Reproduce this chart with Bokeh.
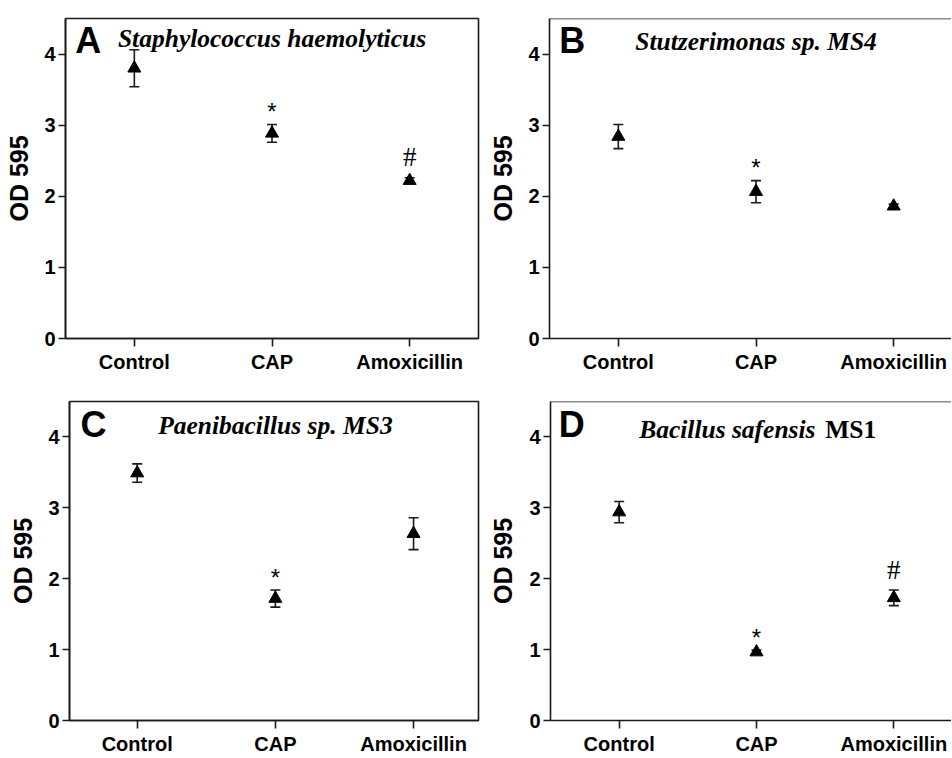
from bokeh.plotting import figure
from bokeh.models import Range1d, FixedTicker, Whisker, TeeHead, ColumnDataSource, Label, Span
from bokeh.layouts import row, column
from bokeh.core.properties import value
from bokeh.embed import file_html
from bokeh.resources import INLINE

# ---------------- data ----------------
groups = ["Control", "CAP", "Amoxicillin"]
y_ticks = [0, 1, 2, 3, 4]
y_label = "OD 595"

letters = ["A", "B", "C", "D"]
species = ["Staphylococcus haemolyticus", "Stutzerimonas sp. MS4",
           "Paenibacillus sp. MS3", "Bacillus safensis"]
strain = ["", "", "", "MS1"]

mean_A = [3.80, 2.885, 2.22]
sem_A = [0.26, 0.125, 0.04]
sig_A = ["", "*", "#"]

mean_B = [2.84, 2.065, 1.86]
sem_B = [0.17, 0.155, 0.03]
sig_B = ["", "*", ""]

mean_C = [3.49, 1.72, 2.635]
sem_C = [0.13, 0.12, 0.225]
sig_C = ["", "*", ""]

mean_D = [2.94, 0.965, 1.73]
sem_D = [0.15, 0.03, 0.11]
sig_D = ["", "*", "#"]

means = [mean_A, mean_B, mean_C, mean_D]
sems = [sem_A, sem_B, sem_C, sem_D]
sigs = [sig_A, sig_B, sig_C, sig_D]

# ---------------- layout / style ----------------
INK = "#1a1a1a"
SANS = "Liberation Sans"
SERIF = "Liberation Serif"

layout = [
    dict(w=480, h=379, bl=65, br=2, bt=15, bb=41, x0=-0.5, x1=2.5, full=True,
         lab_standoff=8, letter_x=-0.43, letter_y=4.19, title_y=4.22),
    dict(w=471, h=379, bl=69, br=0, bt=18, bb=39, x0=-0.5, x1=2.42, full=False,
         lab_standoff=8, letter_x=-0.43, letter_y=4.19, title_y=4.17),
    dict(w=480, h=378, bl=69, br=2, bt=22, bb=34, x0=-0.49, x1=2.47, full=True,
         lab_standoff=8, letter_x=-0.41, letter_y=4.17, title_y=4.16),
    dict(w=471, h=378, bl=70, br=0, bt=20, bb=36, x0=-0.5, x1=2.42, full=False,
         lab_standoff=9, letter_x=-0.44, letter_y=4.17, title_y=4.11),
]


def make_panel(i):
    L = layout[i]
    p = figure(width=L["w"], height=L["h"],
               x_range=Range1d(L["x0"], L["x1"]), y_range=Range1d(0, 4.5),
               output_backend="svg", toolbar_location=None,
               min_border_left=L["bl"], min_border_right=L["br"],
               min_border_top=L["bt"], min_border_bottom=L["bb"])
    p.grid.visible = False
    p.background_fill_color = "white"
    p.border_fill_color = "white"
    if L["full"]:
        p.outline_line_color = INK
        p.outline_line_width = 1.6
        p.outline_line_alpha = 1
    else:
        p.outline_line_color = None
        p.add_layout(Span(location=4.5, dimension="width",
                          line_color=INK, line_width=1.6))

    # axes
    p.xaxis.ticker = FixedTicker(ticks=list(range(len(groups))))
    p.xaxis.major_label_overrides = {k: g for k, g in enumerate(groups)}
    p.yaxis.ticker = FixedTicker(ticks=y_ticks)
    p.yaxis.axis_label = y_label
    for ax in (p.xaxis, p.yaxis):
        ax.axis_line_color = INK
        ax.axis_line_width = 1.6
        ax.major_tick_line_color = INK
        ax.major_tick_line_width = 1.6
        ax.major_tick_in = 0
        ax.minor_tick_line_color = None
        ax.major_label_text_font = SANS
        ax.major_label_text_font_style = "bold"
        ax.major_label_text_font_size = "20px"
        ax.major_label_text_color = "black"
    p.xaxis.major_tick_out = 8
    p.xaxis.major_label_standoff = 4
    p.yaxis.major_tick_out = 7
    p.yaxis.major_label_standoff = 3
    p.yaxis.axis_label_text_font = SANS
    p.yaxis.axis_label_text_font_style = "bold"
    p.yaxis.axis_label_text_font_size = "25px"
    p.yaxis.axis_label_text_color = "black"
    p.yaxis.axis_label_standoff = L["lab_standoff"]

    xs = list(range(len(groups)))
    m = means[i]
    s = sems[i]
    upper = [a + b for a, b in zip(m, s)]
    lower = [a - b for a, b in zip(m, s)]
    src = ColumnDataSource(dict(x=xs, mean=m, upper=upper, lower=lower))

    p.add_layout(Whisker(source=src, base="x", upper="upper", lower="lower",
                         line_color=INK, line_width=1.6,
                         upper_head=TeeHead(size=10, line_color=INK, line_width=1.6),
                         lower_head=TeeHead(size=10, line_color=INK, line_width=1.6)))
    p.scatter("x", "mean", source=src, marker="triangle", size=13,
              fill_color="black", line_color="black")

    # significance marks
    star_x = [x for x, g in zip(xs, sigs[i]) if g == "*"]
    star_y = [u + 0.18 for u, g in zip(upper, sigs[i]) if g == "*"]
    if star_x:
        p.text(x=star_x, y=star_y, text=["*"] * len(star_x),
               text_font=value(SANS), text_font_size=value("24px"),
               text_align="center", text_baseline="alphabetic", text_color="black")
    hash_x = [x for x, g in zip(xs, sigs[i]) if g == "#"]
    hash_y = [u + 0.29 for u, g in zip(upper, sigs[i]) if g == "#"]
    if hash_x:
        p.text(x=hash_x, y=hash_y, text=["#"] * len(hash_x),
               text_font=value(SERIF), text_font_size=value("27px"),
               text_align="center", text_baseline="alphabetic", text_color="black")

    # panel letter
    p.add_layout(Label(x=L["letter_x"], y=L["letter_y"], text=letters[i],
                       text_font=SANS, text_font_style="bold", text_font_size="36px",
                       text_align="left", text_baseline="alphabetic", text_color="black"))
    # species title
    if strain[i]:
        p.add_layout(Label(x=1.43, y=L["title_y"], text=species[i],
                           text_font=SERIF, text_font_style="bold italic",
                           text_font_size="25.5px", text_align="right",
                           text_baseline="alphabetic", text_color="black"))
        p.add_layout(Label(x=1.50, y=L["title_y"], text=strain[i],
                           text_font=SERIF, text_font_style="bold",
                           text_font_size="25.5px", text_align="left",
                           text_baseline="alphabetic", text_color="black"))
    else:
        p.add_layout(Label(x=1.0, y=L["title_y"], text=species[i],
                           text_font=SERIF, text_font_style="bold italic",
                           text_font_size="25.5px", text_align="center",
                           text_baseline="alphabetic", text_color="black"))
    return p


panels = [make_panel(i) for i in range(4)]
page = column(row(panels[0], panels[1]), row(panels[2], panels[3]))

open("out.html", "w").write(file_html(page, INLINE))
